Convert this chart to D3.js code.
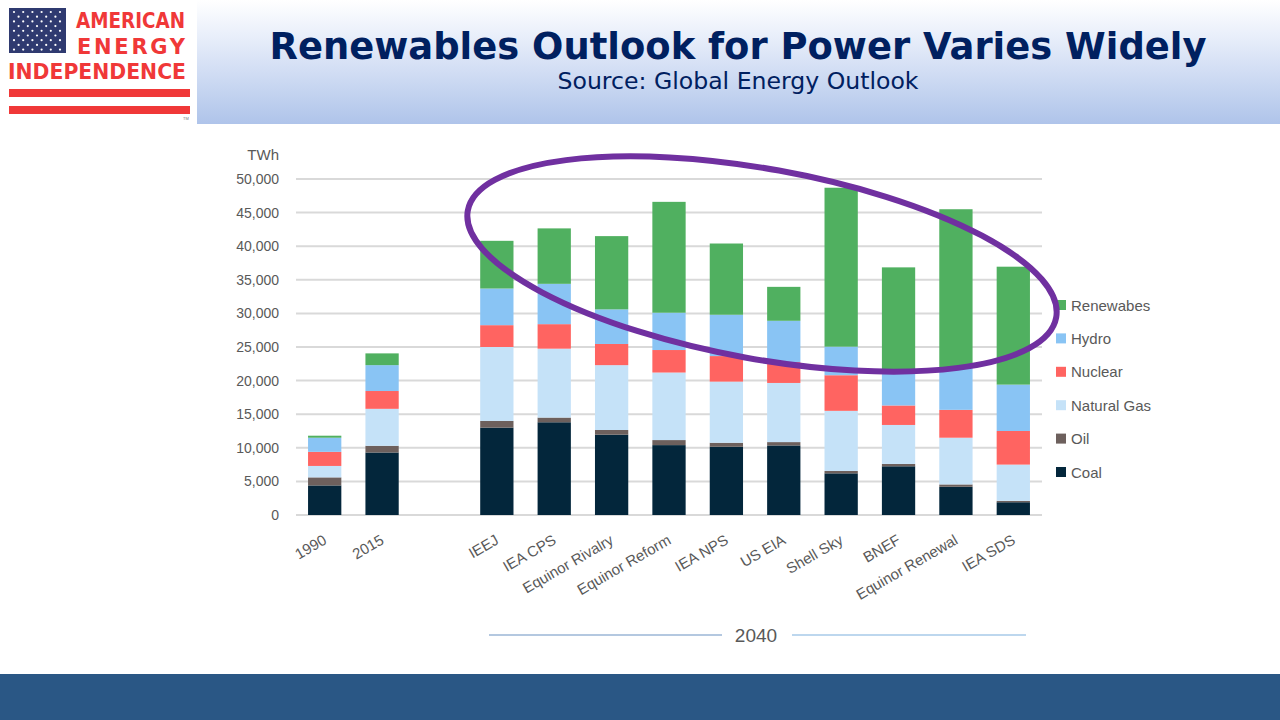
<!DOCTYPE html>
<html>
<head>
<meta charset="utf-8">
<script src="https://cdn.jsdelivr.net/npm/d3@7"></script>
<style>
    body { margin: 0; background: #ffffff; }
    svg { display: block; }
</style>
</head>
<body>
<div id="chart"></div>
<script>
// categories, "" is the empty slot between 2015 and the 2040 outlooks
var categories = ["1990", "2015", "", "IEEJ", "IEA CPS", "Equinor Rivalry", "Equinor Reform", "IEA NPS",
                  "US EIA", "Shell Sky", "BNEF", "Equinor Renewal", "IEA SDS"];

var coal       = [4400, 9300, 0, 13000, 13800, 11950, 10400, 10150, 10350, 6200, 7250, 4200, 1900];
var oil        = [1200, 1000, 0, 1000, 700, 700, 750, 600, 500, 350, 350, 350, 200];
var naturalGas = [1700, 5500, 0, 11000, 10250, 9650, 10050, 9100, 8800, 8950, 5800, 6950, 5400];
var nuclear    = [2100, 2650, 0, 3250, 3650, 3150, 3350, 3800, 3100, 5300, 2900, 4150, 5000];
var hydro      = [2100, 3850, 0, 5450, 6000, 5150, 5550, 6150, 6150, 4250, 5350, 6250, 6900];
var renewables = [300, 1750, 0, 7100, 8250, 10900, 16500, 10600, 5050, 23650, 15200, 23600, 17550];

var seriesNames = ["Coal", "Oil", "Natural Gas", "Nuclear", "Hydro", "Renewabes"];
var seriesColors = ["#03263b", "#6d605d", "#c5e2f8", "#ff6461", "#89c4f4", "#50b060"];

var yTicks = [0, 5000, 10000, 15000, 20000, 25000, 30000, 35000, 40000, 45000, 50000];

var w = 1280,
    h = 720;

var svg = d3.select("#chart")
            .append("svg")
            .attr("width", w)
            .attr("height", h)
            .style("font-family", "'Liberation Sans', Arial, sans-serif");

// ---- header band ----
var defs = svg.append("defs");
var grad = defs.append("linearGradient")
               .attr("id", "headGrad")
               .attr("x1", 0).attr("y1", 0)
               .attr("x2", 0).attr("y2", 1);
grad.append("stop").attr("offset", "0%").attr("stop-color", "#ffffff");
grad.append("stop").attr("offset", "30%").attr("stop-color", "#e8eefa");
grad.append("stop").attr("offset", "100%").attr("stop-color", "#afc4ea");

svg.append("rect")
    .attr("x", 0).attr("y", 0)
    .attr("width", w).attr("height", 124)
    .attr("fill", "url(#headGrad)");

// logo
var logo = svg.append("g");
logo.append("rect")
    .attr("x", 0).attr("y", 0)
    .attr("width", 197).attr("height", 124)
    .attr("fill", "#ffffff");

logo.append("rect")
    .attr("x", 9).attr("y", 8)
    .attr("width", 57).attr("height", 45)
    .attr("fill", "#2f3a70");

var stars = [];
for (let r = 0; r < 9; r++) {
    let n = r % 2 == 0 ? 6 : 5;
    for (let c = 0; c < n; c++) {
        stars.push([14 + c * 9.2 + (r % 2) * 4.6, 12 + r * 4.7]);          //staggered star rows
    }
}
logo.selectAll(".star")
    .data(stars)
    .enter()
    .append("circle")
    .attr("cx", function(d) { return d[0]; })
    .attr("cy", function(d) { return d[1]; })
    .attr("r", 1.1)
    .attr("fill", "#ffffff");

var logoRed = "#f03838";
logo.append("text")
    .attr("x", 76).attr("y", 28)
    .attr("textLength", 109)
    .attr("lengthAdjust", "spacingAndGlyphs")
    .style("font-family", "'DejaVu Sans', sans-serif")
    .style("font-weight", "bold")
    .style("font-size", "22px")
    .attr("fill", logoRed)
    .text("AMERICAN");

logo.append("text")
    .attr("x", 77).attr("y", 54)
    .attr("textLength", 108)
    .attr("lengthAdjust", "spacing")
    .style("font-family", "'DejaVu Sans', sans-serif")
    .style("font-weight", "bold")
    .style("font-size", "21px")
    .attr("fill", logoRed)
    .text("ENERGY");

logo.append("text")
    .attr("x", 8).attr("y", 79)
    .attr("textLength", 178)
    .attr("lengthAdjust", "spacingAndGlyphs")
    .style("font-family", "'DejaVu Sans', sans-serif")
    .style("font-weight", "bold")
    .style("font-size", "21px")
    .attr("fill", logoRed)
    .text("INDEPENDENCE");

logo.append("rect").attr("x", 9).attr("y", 89).attr("width", 181).attr("height", 8).attr("fill", logoRed);
logo.append("rect").attr("x", 9).attr("y", 106).attr("width", 181).attr("height", 8).attr("fill", logoRed);
logo.append("text")
    .attr("x", 183).attr("y", 120)
    .style("font-size", "4px")
    .attr("fill", "#777")
    .text("TM");

// titles
svg.append("text")
    .attr("x", 738).attr("y", 59)
    .attr("text-anchor", "middle")
    .attr("textLength", 937)
    .attr("lengthAdjust", "spacingAndGlyphs")
    .style("font-family", "'DejaVu Sans', sans-serif")
    .style("font-weight", "bold")
    .style("font-size", "38px")
    .attr("fill", "#002060")
    .text("Renewables Outlook for Power Varies Widely");

svg.append("text")
    .attr("x", 738).attr("y", 89)
    .attr("text-anchor", "middle")
    .attr("textLength", 361)
    .attr("lengthAdjust", "spacingAndGlyphs")
    .style("font-family", "'DejaVu Sans', sans-serif")
    .style("font-size", "23px")
    .attr("fill", "#002060")
    .text("Source: Global Energy Outlook");

// footer band
svg.append("rect")
    .attr("x", 0).attr("y", 674)
    .attr("width", w).attr("height", h - 674)
    .attr("fill", "#2a5785");

// ---- chart ----
var xScale = d3.scaleBand()
               .domain(categories)
               .range([296, 1042])
               .paddingInner(0.42)
               .paddingOuter(0.21);

var yScale = d3.scaleLinear()
               .domain([0, 50000])
               .range([515, 179]);

// gridlines
svg.append("g")
    .selectAll("line")
    .data(yTicks)
    .enter()
    .append("line")
    .attr("x1", 296)
    .attr("x2", 1042)
    .attr("y1", function(d) { return yScale(d); })
    .attr("y2", function(d) { return yScale(d); })
    .attr("stroke", "#d9d9d9")
    .attr("stroke-width", 2);

var yAxis = d3.axisLeft()
              .scale(yScale)
              .tickValues(yTicks)
              .tickSize(0)
              .tickPadding(0)
              .tickFormat(d3.format(","));

var yG = svg.append("g")
            .attr("transform", "translate(279, 0)")
            .call(yAxis);
yG.select(".domain").remove();
yG.selectAll("text")
    .style("font-family", "'Liberation Sans', Arial, sans-serif")
    .style("font-size", "14px")
    .attr("fill", "#595959");

svg.append("text")
    .attr("x", 279).attr("y", 160)
    .attr("text-anchor", "end")
    .style("font-size", "15px")
    .attr("fill", "#595959")
    .text("TWh");

// stacked bars
var table = categories.map(function(c, i) {
    return {
        cat: c,
        "Coal": coal[i],
        "Oil": oil[i],
        "Natural Gas": naturalGas[i],
        "Nuclear": nuclear[i],
        "Hydro": hydro[i],
        "Renewabes": renewables[i]
    };
});

var stack = d3.stack().keys(seriesNames);
var stacked = stack(table);

var color = d3.scaleOrdinal()
              .domain(seriesNames)
              .range(seriesColors);

svg.append("g")
    .selectAll("g")
    .data(stacked)
    .enter()
    .append("g")
    .attr("fill", function(d) { return color(d.key); })
    .selectAll("rect")
    .data(function(d) { return d.filter(function(p) { return p.data.cat != ""; }); })
    .enter()
    .append("rect")
    .attr("x", function(d) { return xScale(d.data.cat); })
    .attr("width", xScale.bandwidth())
    .attr("y", function(d) { return yScale(d[1]); })
    .attr("height", function(d) { return yScale(d[0]) - yScale(d[1]); });

// rotated category labels
svg.append("g")
    .selectAll("text")
    .data(categories.filter(function(c) { return c != ""; }))
    .enter()
    .append("text")
    .attr("transform", function(d) {
        return "translate(" + (xScale(d) + xScale.bandwidth() / 2 + 3) + ", 543) rotate(-30)";
    })
    .attr("text-anchor", "end")
    .style("font-size", "15px")
    .attr("fill", "#595959")
    .text(function(d) { return d; });

// 2040 bracket
svg.append("line")
    .attr("x1", 489).attr("x2", 722)
    .attr("y1", 635).attr("y2", 635)
    .attr("stroke", "#9bb6d6")
    .attr("stroke-width", 1.5);
svg.append("line")
    .attr("x1", 792).attr("x2", 1026)
    .attr("y1", 635).attr("y2", 635)
    .attr("stroke", "#bdd7ee")
    .attr("stroke-width", 2);
svg.append("text")
    .attr("x", 756).attr("y", 642)
    .attr("text-anchor", "middle")
    .style("font-size", "19px")
    .attr("fill", "#595959")
    .text("2040");

// legend, top to bottom renewables -> coal
var legendItems = seriesNames.slice().reverse();
var legend = svg.append("g")
                .selectAll("g")
                .data(legendItems)
                .enter()
                .append("g")
                .attr("transform", function(d, i) { return "translate(1056, " + (305 + i * 33.4) + ")"; });

legend.append("rect")
    .attr("x", 0).attr("y", -5)
    .attr("width", 10).attr("height", 10)
    .attr("fill", function(d) { return color(d); });

legend.append("text")
    .attr("x", 15).attr("y", 5.5)
    .style("font-size", "15px")
    .attr("fill", "#595959")
    .text(function(d) { return d; });

// purple annotation ring
svg.append("ellipse")
    .attr("cx", 762).attr("cy", 264)
    .attr("rx", 299).attr("ry", 95)
    .attr("transform", "rotate(10.3, 762, 264)")
    .attr("fill", "none")
    .attr("stroke", "#7030a0")
    .attr("stroke-width", 6);
</script>
</body>
</html>
